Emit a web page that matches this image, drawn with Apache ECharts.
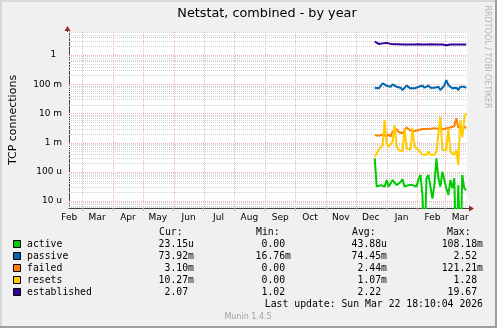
<!DOCTYPE html>
<html><head><meta charset="utf-8">
<script src="https://cdn.jsdelivr.net/npm/echarts@6/dist/echarts.min.js"></script>
<style>html,body{margin:0;padding:0;background:#f0f0f0;overflow:hidden}#c{width:497px;height:328px}</style>
</head><body><div id="c"></div>
<script>
// ---------- data ----------
const monthNames = ['Jan','Feb','Mar','Apr','May','Jun','Jul','Aug','Sep','Oct','Nov','Dec'];
const seriesNames = ['active','passive','failed','resets','established'];
const seriesColors = ['#00cc00','#0066b3','#ff8000','#ffcc00','#330099'];
const active = [2.9e-4,3.1e-5,3.1e-5,3.5e-5,3.1e-5,3.1e-5,5.2e-5,3.1e-5,3.1e-5,5.2e-5,6.0e-5,3.5e-5,3.1e-5,4.5e-5,5.5e-5,3.1e-5,3.5e-5,3.5e-5,3.1e-5,3.5e-5,3.1e-5,3.1e-5,5.5e-5,7.8e-5,1.6e-5,0,6.0e-5,7.8e-5,3.1e-5,1.2e-5,3.5e-5,2.9e-4,6.0e-5,3.1e-5,1.0e-4,5.2e-5,2.7e-5,1.6e-5,5.2e-5,2.7e-5,6.0e-5,0,3.5e-5,0,7.8e-5,2.7e-5,2.3e-5];
const passive = [0.076,0.072,0.072,0.076,0.107,0.099,0.089,0.094,0.082,0.099,0.094,0.082,0.072,0.076,0.063,0.055,0.089,0.082,0.072,0.063,0.072,0.076,0.082,0.076,0.089,0.076,0.082,0.089,0.076,0.082,0.076,0.072,0.082,0.063,0.055,0.089,0.139,0.094,0.082,0.072,0.082,0.076,0.063,0.082,0.076,0.082,0.074];
const failed = [1.8e-3,1.8e-3,1.7e-3,1.8e-3,1.9e-3,1.8e-3,1.6e-3,1.9e-3,1.6e-3,2.4e-3,2.2e-3,2.9e-3,2.3e-3,2.5e-3,2.1e-3,2.7e-3,3.3e-3,3.1e-3,2.6e-3,2.8e-3,2.5e-3,2.4e-3,2.7e-3,2.5e-3,2.9e-3,2.6e-3,2.9e-3,2.7e-3,3.0e-3,2.8e-3,3.1e-3,2.9e-3,3.0e-3,3.6e-3,2.8e-3,3.2e-3,3.1e-3,3.4e-3,3.3e-3,3.0e-3,3.6e-3,6.8e-3,3.2e-3,4.0e-3,2.7e-3,3.5e-3,3.1e-3];
const resets = [3.3e-4,4.3e-4,5.6e-4,5.6e-4,8.3e-4,5.9e-3,9.5e-4,7.3e-4,6.4e-4,1.1e-3,4.0e-3,7.3e-4,5.6e-4,6.4e-4,4.9e-4,3.1e-3,6.4e-4,7.3e-4,5.6e-4,3.1e-3,7.3e-4,8.3e-4,5.6e-4,4.9e-4,3.8e-4,4.3e-4,3.8e-4,4.9e-4,3.8e-4,4.3e-4,3.8e-4,4.9e-4,4.3e-4,7.7e-3,5.6e-4,4.9e-4,5.6e-4,3.1e-3,4.9e-4,4.3e-4,3.8e-4,5.6e-4,1.7e-4,5.9e-3,1.5e-3,6.8e-3,1.03e-2];
const established = [2.9,2.5,2.4,2.4,2.5,2.6,2.6,2.5,2.4,2.4,2.35,2.4,2.35,2.35,2.3,2.35,2.3,2.35,2.3,2.35,2.3,2.3,2.35,2.3,2.3,2.35,2.3,2.3,2.35,2.3,2.3,2.35,2.3,2.3,2.3,2.2,2.15,2.3,2.3,2.3,2.3,2.3,2.3,2.3,2.3,2.3,2.3];
const curVals = ['23.15u','73.92m','3.10m','10.27m','2.07 '];
const minVals = ['0.00 ','16.76m','0.00 ','0.00 ','1.02 '];
const avgVals = ['43.88u','74.45m','2.44m','1.07m','2.22 '];
const maxVals = ['108.18m','2.52 ','121.21m','1.28 ','19.67 '];
const yTickValues = [1, 0.1, 0.01, 0.001, 1e-4, 1e-5];
const yTickLabels = ['1  ', '100 m', '10 m', '1 m', '100 u', '10 u'];
const titleText = 'Netstat, combined - by year';
const lastUpdate = 'Last update: Sun Mar 22 18:10:04 2026';

// ---------- time frame ----------
const DAY = 86400000;
const END = Date.UTC(2026, 2, 22, 18, 10, 4);
const START = END - 400 * DAY;
const sampleStart = Date.UTC(2025, 11, 20);
const sampleStepDays = 2;
const sampleTimes = active.map((_, i) => sampleStart + i * sampleStepDays * DAY);

const monthStarts = [];
for (let y = 2025, m = 1; y < 2026 || m <= 2; ) {
  monthStarts.push(Date.UTC(y, m, 1));
  m++; if (m > 11) { m = 0; y++; }
}
const gridMonths = monthStarts.filter(t => t > START && t < END);
const labelMonths = monthStarts.map(t => t + 15 * DAY).filter(t => t >= START && t <= END);

const YMIN = 5.75e-6, YMAX = 6.13;
const minorVals = [];
for (let e = -6; e <= 0; e++) for (let k = 2; k <= 9; k++) {
  const v = k * Math.pow(10, e);
  if (v > YMIN && v < YMAX) minorVals.push(v);
}

// grid line descriptors: [orientation, value, color]
const gridItems = []
  .concat(minorVals.map(v => ['h', v, '#d2d2d2']))
  .concat(yTickValues.map(v => ['h', v, '#eeb4b4']))
  .concat(gridMonths.map(t => ['v', t, '#f4b4b4']));

const allSeries = [active, passive, failed, resets, established];
const FLOOR = 1e-7; // zero values drawn below the bottom of the log scale

const chart = echarts.init(document.getElementById('c'), null, {renderer: 'canvas'});

const gridSeries = {
  type: 'custom', silent: true, animation: false, clip: true, z: 1,
  data: gridItems.map(() => [START, 1]),
  renderItem: (params, api) => {
    const [o, v, c] = gridItems[params.dataIndex];
    let x1, y1, x2, y2;
    if (o === 'h') {
      const a = api.coord([START, v]), b = api.coord([END, v]);
      const y = Math.round(a[1]) + 0.5;
      x1 = a[0]; x2 = b[0]; y1 = y; y2 = y;
    } else {
      const a = api.coord([v, YMAX]), b = api.coord([v, YMIN]);
      const x = Math.round(a[0]) + 0.5;
      x1 = x; x2 = x; y1 = a[1]; y2 = b[1];
    }
    return {type: 'line', shape: {x1, y1, x2, y2}, style: {stroke: c, lineWidth: 1, lineDash: [1, 1]}};
  }
};

const font = 'DejaVu Sans';
const MONO = '9.8px "DejaVu Sans Mono"';
const rowY = [244.5, 256.5, 268.5, 280.5, 292.5];
const graphics = [
  {type: 'rect', shape: {x: 0, y: 0, width: 497, height: 2}, style: {fill: '#d8d8d8'}, silent: true},
  {type: 'rect', shape: {x: 0, y: 0, width: 2, height: 328}, style: {fill: '#d8d8d8'}, silent: true},
  {type: 'rect', shape: {x: 0, y: 326, width: 497, height: 2}, style: {fill: '#9e9e9e'}, silent: true},
  {type: 'rect', shape: {x: 495, y: 0, width: 2, height: 328}, style: {fill: '#9e9e9e'}, silent: true},
  {type: 'text', x: 267, y: 14, style: {text: titleText, font: '12.8px "DejaVu Sans"', fill: '#000', align: 'center', verticalAlign: 'middle'}},
  {type: 'text', x: 487.5, y: 57, rotation: -Math.PI / 2, style: {text: 'RRDTOOL / TOBI OETIKER', font: '8px "DejaVu Sans"', fill: '#b4b4b4', align: 'center', verticalAlign: 'middle'}},
  {type: 'text', x: 248, y: 317, style: {text: 'Munin 1.4.5', font: '8px "DejaVu Sans"', fill: '#a0a0a0', align: 'center', verticalAlign: 'middle'}},
  {type: 'line', shape: {x1: 67.5, y1: 32, x2: 67.5, y2: 29}, style: {stroke: '#404040', lineWidth: 1}},
  {type: 'polygon', shape: {points: [[67.5, 26], [64.5, 31], [70.5, 31]]}, style: {fill: '#962828'}},
  {type: 'line', shape: {x1: 467, y1: 208.5, x2: 469, y2: 208.5}, style: {stroke: '#404040', lineWidth: 1}},
  {type: 'polygon', shape: {points: [[474, 208.5], [469, 205.5], [469, 211.5]]}, style: {fill: '#962828'}},
  {type: 'text', x: 159, y: 232.5, style: {text: 'Cur:', font: MONO, fill: '#000', verticalAlign: 'middle'}},
  {type: 'text', x: 256, y: 232.5, style: {text: 'Min:', font: MONO, fill: '#000', verticalAlign: 'middle'}},
  {type: 'text', x: 352, y: 232.5, style: {text: 'Avg:', font: MONO, fill: '#000', verticalAlign: 'middle'}},
  {type: 'text', x: 447, y: 232.5, style: {text: 'Max:', font: MONO, fill: '#000', verticalAlign: 'middle'}},
  {type: 'text', x: 483, y: 304.5, style: {text: lastUpdate, font: MONO, fill: '#000', align: 'right', verticalAlign: 'middle'}}
];
seriesNames.forEach((n, i) => {
  const y = rowY[i];
  graphics.push({type: 'rect', shape: {x: 13.5, y: y - 4, width: 7, height: 7}, style: {fill: seriesColors[i], stroke: '#000', lineWidth: 1}});
  graphics.push({type: 'text', x: 27, y: y, style: {text: n, font: MONO, fill: '#000', verticalAlign: 'middle'}});
  [[curVals, 194], [minVals, 291], [avgVals, 387], [maxVals, 483]].forEach(([arr, xr]) => {
    graphics.push({type: 'text', x: xr, y: y, style: {text: arr[i], font: MONO, fill: '#000', align: 'right', verticalAlign: 'middle'}});
  });
});

chart.setOption({
  animation: false,
  backgroundColor: '#f0f0f0',
  grid: {left: 67, top: 32, width: 400, height: 176, backgroundColor: '#ffffff', show: true, borderWidth: 0},
  xAxis: {
    type: 'value', min: START, max: END,
    splitLine: {show: false},
    axisLine: {show: true, onZero: false, lineStyle: {color: '#404040', width: 1}},
    axisTick: {show: true, customValues: gridMonths, length: 3, lineStyle: {color: '#eaa0a0'}},
    axisLabel: {
      customValues: labelMonths, margin: 5, color: '#000', fontFamily: font, fontSize: 9,
      formatter: v => monthNames[new Date(v).getUTCMonth()]
    }
  },
  yAxis: {
    type: 'log', logBase: 10, min: YMIN, max: YMAX,
    name: 'TCP connections', nameLocation: 'middle', nameRotate: 90, nameGap: 50,
    nameTextStyle: {fontFamily: font, fontSize: 11, color: '#000'},
    splitLine: {show: false},
    axisLine: {show: true, lineStyle: {color: '#404040', width: 1}},
    axisTick: {show: false},
    axisLabel: {
      showMinLabel: false, showMaxLabel: false, margin: 7, color: '#000', fontFamily: font, fontSize: 9,
      formatter: v => {
        const idx = yTickValues.findIndex(t => Math.abs(Math.log10(t) - Math.log10(v)) < 0.01);
        return idx >= 0 ? yTickLabels[idx] : '';
      }
    }
  },
  series: [gridSeries].concat(allSeries.map((arr, i) => ({
    name: seriesNames[i], type: 'line', symbol: 'none', showSymbol: false,
    animation: false, silent: true, clip: true, z: 2,
    lineStyle: {color: seriesColors[i], width: 2},
    data: arr.map((v, j) => [sampleTimes[j], v > 0 ? v : FLOOR])
  }))),
  graphic: graphics
});
</script></body></html>
